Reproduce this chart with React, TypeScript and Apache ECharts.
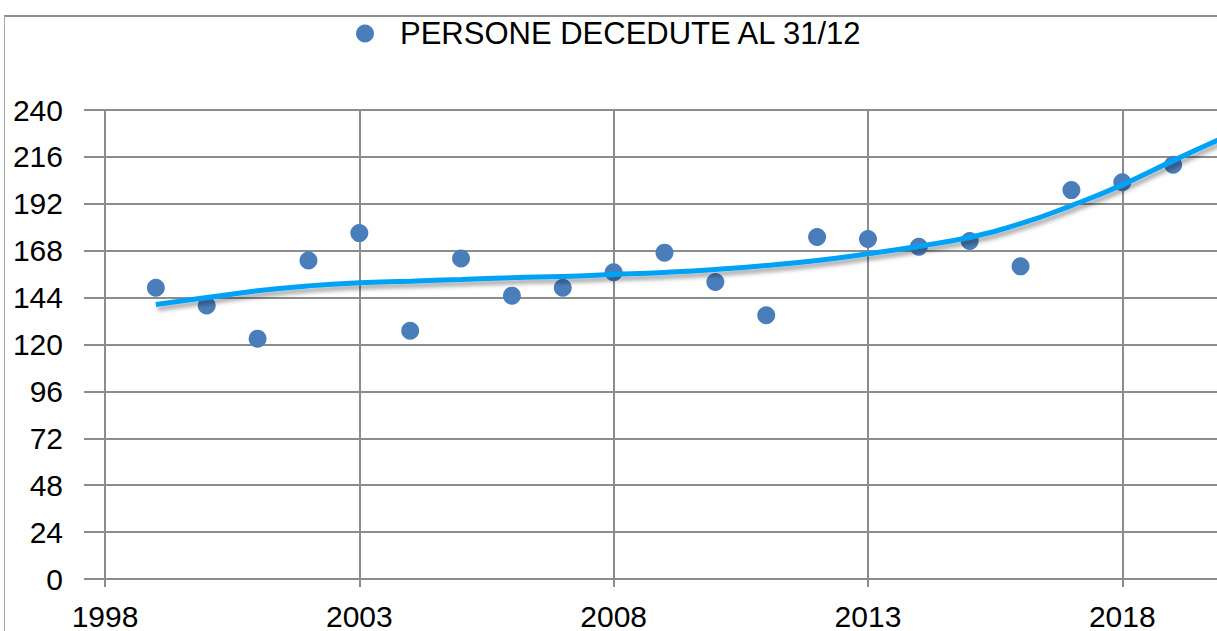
import React, { useEffect, useRef } from "react";
import * as echarts from "echarts";

const years = [1999, 2000, 2001, 2002, 2003, 2004, 2005, 2006, 2007, 2008, 2009, 2010, 2011, 2012, 2013, 2014, 2015, 2016, 2017, 2018, 2019];
const deaths = [149, 140, 123, 163, 177, 127, 164, 145, 149, 157, 167, 152, 135, 175, 174, 170, 173, 160, 199, 203, 212];

const trendYears = [1999, 2000, 2001, 2002, 2003, 2004, 2005, 2006, 2007, 2008, 2009, 2010, 2011, 2012, 2013, 2014, 2015, 2016, 2017, 2018, 2019, 2020];
const trendValues = [140.5, 144, 147.5, 150, 151.6, 152.4, 153.3, 154.2, 154.8, 155.8, 156.9, 158.4, 160.4, 163, 166.4, 170.3, 174.9, 181.8, 191.1, 201.7, 214.1, 226];

const xTickLabels = [1998, 2003, 2008, 2013, 2018];
const seriesName = "PERSONE DECEDUTE AL 31/12";

const FONT = "'Liberation Sans', Arial, sans-serif";
const GRID_COLOR = "#8c8c8c";

export default function App() {
  const ref = useRef<HTMLDivElement>(null);

  useEffect(() => {
    if (!ref.current) return;
    const chart = echarts.init(ref.current, null, { renderer: "svg" });
    chart.setOption({
      animation: false,
      backgroundColor: "#ffffff",
      textStyle: { fontFamily: FONT },
      graphic: [
        { type: "line", shape: { x1: 4, y1: 16, x2: 1300, y2: 16 }, style: { stroke: "#8f8f8f", lineWidth: 2 } },
        { type: "line", shape: { x1: 4.5, y1: 16, x2: 4.5, y2: 700 }, style: { stroke: "#a6a6a6", lineWidth: 1 } },
      ],
      legend: {
        data: [seriesName],
        left: 351,
        top: 13,
        itemWidth: 60,
        itemHeight: 18,
        icon: "circle",
        textStyle: { fontSize: 31, color: "#000", fontFamily: FONT },
      },
      grid: { left: 105, top: 110, right: 6, bottom: 52, containLabel: false },
      xAxis: {
        type: "value",
        min: 1998,
        max: 2020,
        axisLine: { show: true, onZero: false, lineStyle: { color: GRID_COLOR, width: 2 } },
        axisTick: { show: true, length: 8, customValues: xTickLabels, lineStyle: { color: GRID_COLOR, width: 2 } },
        axisLabel: {
          customValues: xTickLabels,
          fontSize: 30,
          color: "#000",
          margin: 22,
          fontFamily: FONT,
          formatter: (v: number) => String(v),
        },
        splitLine: { show: true, lineStyle: { color: GRID_COLOR, width: 2 } },
      },
      yAxis: {
        type: "value",
        min: 0,
        max: 240,
        interval: 24,
        axisLine: { show: true, lineStyle: { color: GRID_COLOR, width: 2 } },
        axisTick: { show: true, length: 21, lineStyle: { color: GRID_COLOR, width: 2 } },
        axisLabel: { fontSize: 30, color: "#000", margin: 42, fontFamily: FONT },
        splitLine: { show: true, lineStyle: { color: GRID_COLOR, width: 2 } },
      },
      series: [
        {
          name: seriesName,
          type: "scatter",
          symbol: "circle",
          symbolSize: 18,
          itemStyle: { color: "#4a7ebb", opacity: 1 },
          data: years.map((y, i) => [y, deaths[i]]),
          z: 2,
        },
        {
          name: "Trend",
          type: "line",
          smooth: true,
          symbol: "none",
          clip: true,
          data: trendYears.map((y, i) => [y, trendValues[i]]),
          lineStyle: {
            color: "#00a2f5",
            width: 5,
            shadowColor: "rgba(0,0,0,0.35)",
            shadowBlur: 4,
            shadowOffsetX: 2,
            shadowOffsetY: 4,
          },
          z: 3,
        },
      ],
    });
    return () => chart.dispose();
  }, []);

  return (
    <div style={{ position: "fixed", left: 0, top: 0, width: 1217, height: 631, overflow: "hidden", background: "#fff" }}>
      <div ref={ref} style={{ width: 1230, height: 631 }} />
    </div>
  );
}
